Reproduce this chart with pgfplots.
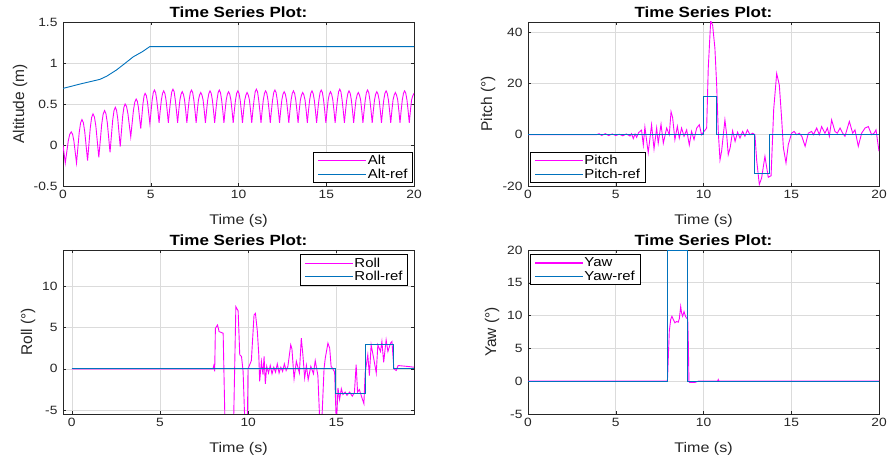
\documentclass[border=0pt]{standalone}
\usepackage{fontspec}
\setmainfont[FakeStretch=1.15]{Liberation Sans}
\newfontfamily\titlefont[FakeStretch=1.15]{Liberation Sans Bold}
\newfontfamily\ylabfont{Liberation Sans}
\usepackage{pgfplots}
\pgfplotsset{compat=1.18}
\definecolor{mblue}{rgb}{0,0.447,0.741}
\definecolor{mmag}{rgb}{1,0,1}
\definecolor{axgray}{rgb}{0.15,0.15,0.15}
\definecolor{gridgray}{rgb}{0.86,0.86,0.86}
\pgfplotsset{
  mstyle/.style={
    scale only axis, width=351pt, height=164pt,
    axis line style={axgray, line width=0.6pt},
    tick align=inside, major tick length=3pt,
    tick style={axgray, line width=0.5pt},
    grid=major, major grid style={gridgray, line width=0.6pt},
    tick label style={font=\fontsize{12}{12}\selectfont, text=axgray},
    xticklabel style={yshift=-1pt},
    yticklabel style={xshift=-2pt},
    /pgf/number format/assume math mode=true,
    title={Time Series Plot:},
    title style={font=\titlefont\fontsize{14.8}{14.8}\selectfont, at={(0.5,1)}, anchor=south, yshift=-5.5pt},
    xlabel={Time (s)},
    xlabel style={font=\fontsize{14}{14}\selectfont, text=axgray, at={(axis description cs:0.5,0)}, anchor=center, yshift=-35pt},
    legend cell align=left,
    legend style={draw=black, line width=0.7pt, fill=white, font=\fontsize{13}{13}\selectfont,
      inner xsep=4pt, inner ysep=1.5pt, nodes={inner xsep=1pt, inner ysep=1.4pt}, row sep=0pt},
    legend image code/.code={\draw[#1, line width=1.1pt] (0pt,0pt) -- (48pt,0pt);},
    xtick={0,5,10,15,20},
    every axis plot/.append style={line width=0.9pt},
  }
}
\begin{document}
\begin{tikzpicture}
\path[use as bounding box] (0,0) rectangle (890pt,462pt);
% ---------------- Altitude ----------------
\begin{axis}[mstyle, at={(63pt,276pt)}, anchor=south west,
  xmin=0, xmax=20, ymin=-0.5, ymax=1.5, ytick={-0.5,0,0.5,1,1.5},
  yticklabels={-0.5,0,0.5,1,1.5},
  ylabel={Altitude (m)},
  ylabel style={font=\ylabfont\fontsize{15.5}{15.5}\selectfont, text=axgray, at={([xshift=-43pt]axis description cs:0,0.5)}, anchor=center},
  legend style={at={(1,0)}, anchor=south east, xshift=-1pt, yshift=3pt}]
\addplot[mmag] coordinates {
(0,0.00) (0.13,-0.22) (0.30,0.05) (0.385,0.131) (0.47,0.16) (0.545,0.131) (0.62,0.05) (0.77,-0.22)
(0.925,0.155) (1.0025,0.27) (1.08,0.31) (1.16,0.272) (1.24,0.16) (1.40,-0.19)
(1.555,0.21) (1.6325,0.337) (1.71,0.38) (1.7925,0.34) (1.875,0.225) (2.04,-0.15)
(2.205,0.25) (2.2875,0.377) (2.37,0.42) (2.4475,0.381) (2.525,0.27) (2.68,-0.09)
(2.83,0.30) (2.905,0.418) (2.98,0.46) (3.05,0.424) (3.12,0.32) (3.26,-0.02)
(3.40,0.35) (3.47,0.46) (3.54,0.50) (3.62,0.47) (3.70,0.38) (3.86,0.10)
(4.015,0.425) (4.0925,0.525) (4.17,0.56) (4.235,0.533) (4.30,0.455) (4.43,0.20)
(4.555,0.50) (4.6175,0.597) (4.68,0.63) (4.7475,0.602) (4.815,0.52) (4.95,0.26)
(5.08,0.55) (5.145,0.639) (5.21,0.67) (5.276,0.64) (5.342,0.55) (5.408,0.42)
(5.474,0.27) (5.54,0.42) (5.606,0.55) (5.672,0.63) (5.738,0.66) (5.804,0.63) (5.87,0.55) (5.936,0.42)
(6.002,0.27) (6.068,0.42) (6.134,0.55) (6.2,0.65) (6.266,0.68) (6.332,0.65) (6.398,0.55) (6.464,0.42)
(6.53,0.27) (6.596,0.42) (6.662,0.55) (6.728,0.62) (6.794,0.65) (6.86,0.62) (6.926,0.55) (6.992,0.42)
(7.058,0.27) (7.124,0.42) (7.19,0.55) (7.256,0.64) (7.322,0.67) (7.388,0.64) (7.454,0.55) (7.52,0.42)
(7.586,0.27) (7.652,0.42) (7.718,0.55) (7.784,0.61) (7.85,0.64) (7.916,0.61) (7.982,0.55) (8.048,0.42)
(8.114,0.27) (8.18,0.42) (8.246,0.55) (8.312,0.63) (8.378,0.66) (8.444,0.63) (8.51,0.55) (8.576,0.42)
(8.642,0.27) (8.708,0.42) (8.774,0.55) (8.84,0.64) (8.906,0.67) (8.972,0.64) (9.038,0.55) (9.104,0.42)
(9.17,0.27) (9.236,0.42) (9.302,0.55) (9.368,0.62) (9.434,0.65) (9.5,0.62) (9.566,0.55) (9.632,0.42)
(9.698,0.27) (9.764,0.42) (9.83,0.55) (9.896,0.63) (9.962,0.66) (10.028,0.63) (10.094,0.55) (10.16,0.42)
(10.226,0.27) (10.292,0.42) (10.358,0.55) (10.424,0.61) (10.49,0.64) (10.556,0.61) (10.622,0.55) (10.688,0.42)
(10.754,0.27) (10.82,0.42) (10.886,0.55) (10.952,0.65) (11.018,0.68) (11.084,0.65) (11.15,0.55) (11.216,0.42)
(11.282,0.27) (11.348,0.42) (11.414,0.55) (11.48,0.63) (11.546,0.66) (11.612,0.63) (11.678,0.55) (11.744,0.42)
(11.81,0.27) (11.876,0.42) (11.942,0.55) (12.008,0.64) (12.074,0.67) (12.14,0.64) (12.206,0.55) (12.272,0.42)
(12.338,0.27) (12.404,0.42) (12.47,0.55) (12.536,0.62) (12.602,0.65) (12.668,0.62) (12.734,0.55) (12.8,0.42)
(12.866,0.27) (12.932,0.42) (12.998,0.55) (13.064,0.63) (13.13,0.66) (13.196,0.63) (13.262,0.55) (13.328,0.42)
(13.394,0.27) (13.46,0.42) (13.526,0.55) (13.592,0.61) (13.658,0.64) (13.724,0.61) (13.79,0.55) (13.856,0.42)
(13.922,0.27) (13.988,0.42) (14.054,0.55) (14.12,0.63) (14.186,0.66) (14.252,0.63) (14.318,0.55) (14.384,0.42)
(14.45,0.27) (14.516,0.42) (14.582,0.55) (14.648,0.64) (14.714,0.67) (14.78,0.64) (14.846,0.55) (14.912,0.42)
(14.978,0.27) (15.044,0.42) (15.11,0.55) (15.176,0.62) (15.242,0.65) (15.308,0.62) (15.374,0.55) (15.44,0.42)
(15.506,0.27) (15.572,0.42) (15.638,0.55) (15.704,0.65) (15.77,0.68) (15.836,0.65) (15.902,0.55) (15.968,0.42)
(16.034,0.27) (16.1,0.42) (16.166,0.55) (16.232,0.63) (16.298,0.66) (16.364,0.63) (16.43,0.55) (16.496,0.42)
(16.562,0.27) (16.628,0.42) (16.694,0.55) (16.76,0.61) (16.826,0.64) (16.892,0.61) (16.958,0.55) (17.024,0.42)
(17.09,0.27) (17.156,0.42) (17.222,0.55) (17.288,0.64) (17.354,0.67) (17.42,0.64) (17.486,0.55) (17.552,0.42)
(17.618,0.27) (17.684,0.42) (17.75,0.55) (17.816,0.62) (17.882,0.65) (17.948,0.62) (18.014,0.55) (18.08,0.42)
(18.146,0.27) (18.212,0.42) (18.278,0.55) (18.344,0.63) (18.41,0.66) (18.476,0.63) (18.542,0.55) (18.608,0.42)
(18.674,0.27) (18.74,0.42) (18.806,0.55) (18.872,0.61) (18.938,0.64) (19.004,0.61) (19.07,0.55) (19.136,0.42)
(19.202,0.27) (19.268,0.42) (19.334,0.55) (19.4,0.63) (19.466,0.66) (19.532,0.63) (19.598,0.55) (19.664,0.42)
(19.73,0.27) (19.796,0.42) (19.862,0.55) (19.928,0.60) (20.0,0.63)
};
\addlegendentry{Alt}
\addplot[mblue] coordinates {
(0,0.69) (1,0.745) (2.1,0.80) (2.5,0.84) (3.05,0.915) (3.5,0.99) (4.0,1.075) (4.5,1.135) (4.95,1.2) (20,1.2)
};
\addlegendentry{Alt-ref}
\end{axis}
% ---------------- Pitch ----------------
\begin{axis}[mstyle, at={(528pt,276pt)}, anchor=south west,
  xmin=0, xmax=20, ymin=-20, ymax=44, ytick={-20,0,20,40},
  ylabel={Pitch (°)},
  ylabel style={font=\ylabfont\fontsize{15.5}{15.5}\selectfont, text=axgray, at={([xshift=-40pt]axis description cs:0,0.5)}, anchor=center},
  legend style={at={(0,0)}, anchor=south west, xshift=2pt, yshift=3pt}]
\addplot[mmag] coordinates {
(0,0) (3.9,0) (4.05,0.4) (4.2,-0.3) (4.4,0.4) (4.6,-0.3) (4.8,0.3) (5.0,-0.3) (5.2,0.2)
(5.4,-0.4) (5.6,0.3) (5.81,-0.5) (5.9,0.4) (6.0,-1.5) (6.1,0.3) (6.19,-1.0) (6.3,0.8)
(6.47,1.8) (6.57,-4.0) (6.66,3.0) (6.85,-7.0) (7.04,3.9) (7.18,-5.5) (7.33,2.6) (7.42,-3.3)
(7.58,4.1) (7.71,-3.3) (7.9,2.6) (8.05,0.0) (8.15,9.0) (8.24,6.7) (8.37,-1.9) (8.51,3.3)
(8.62,-1.3) (8.75,2.6) (8.89,-0.6) (9.04,1.9) (9.19,-4.0) (9.32,1.3) (9.46,-1.9) (9.61,2.6)
(9.76,3.9) (9.89,0.0) (10.03,1.3) (10.18,2.6) (10.27,25.9) (10.41,44.5) (10.52,42.7)
(10.65,33.7) (10.75,19.4) (10.84,1.3) (10.94,-9.8) (11.03,-6.5) (11.13,0.0) (11.22,5.8)
(11.32,0.0) (11.41,-7.8) (11.52,-5.0) (11.66,1.5) (11.8,-2.6) (11.94,1.0) (12.08,-1.3)
(12.23,1.3) (12.36,-0.6) (12.5,1.9) (12.65,0.0) (12.8,0.6) (12.93,0.0) (13.03,-10.0)
(13.18,-19.4) (13.31,-16.9) (13.5,-8.4) (13.69,-16.6) (13.85,-16.0) (14.0,10.0) (14.17,23.9)
(14.32,19.4) (14.45,6.5) (14.55,-5.0) (14.7,-11.0) (14.83,-3.9) (15.02,0.6) (15.16,1.3)
(15.31,0.0) (15.46,0.6) (15.6,-0.6) (15.79,-4.5) (15.97,0.6) (16.16,1.3) (16.26,0.0)
(16.45,2.6) (16.6,0.0) (16.73,3.2) (16.92,0.6) (17.06,2.6) (17.17,-0.6) (17.3,5.8)
(17.49,1.3) (17.62,0.6) (17.78,2.6) (17.93,0.6) (18.06,-0.6) (18.31,5.2) (18.5,0.6)
(18.63,1.9) (18.82,-4.5) (19.01,0.6) (19.2,2.6) (19.39,3.2) (19.58,0.0) (19.72,0.6)
(19.83,1.9) (20.0,-6.5)
};
\addlegendentry{Pitch}
\addplot[mblue] coordinates {
(0,0) (9.97,0) (9.97,15) (10.75,15) (10.75,0) (12.93,0) (12.93,-15) (13.75,-15) (13.75,0) (20,0)
};
\addlegendentry{Pitch-ref}
\end{axis}
% ---------------- Roll ----------------
\begin{axis}[mstyle, at={(63pt,48pt)}, anchor=south west,
  xmin=-0.5, xmax=19.4, ymin=-5.45, ymax=14.35, ytick={-5,0,5,10}, xtick={0,5,10,15},
  ylabel={Roll (°)},
  ylabel style={font=\ylabfont\fontsize{15.5}{15.5}\selectfont, text=axgray, at={([xshift=-35pt]axis description cs:0,0.5)}, anchor=center},
  legend style={at={(1,1)}, anchor=north east, xshift=-6pt, yshift=-4.5pt}]
\addplot[mmag] coordinates {
(0,0) (8.0,0) (8.05,0.4) (8.1,-0.3) (8.14,4.9) (8.26,5.3) (8.35,4.5) (8.58,4.3)
(8.67,-5.2) (8.72,-9) (9.15,-9) (9.3,7.5) (9.43,7.0) (9.52,1.7) (9.62,1.5) (9.71,-0.3)
(9.77,-4) (9.84,-9) (9.94,-9) (9.99,0) (10.18,1.0) (10.33,6.5) (10.41,6.7) (10.52,4.5)
(10.6,1.7) (10.65,-1.5) (10.75,0.9) (10.84,-0.7) (10.9,1.5) (10.97,-1.8) (11.05,0.3)
(11.15,-0.5) (11.25,0.4) (11.35,-0.6) (11.45,0.2) (11.55,-0.4) (11.65,0.6) (11.75,-0.5)
(11.85,0.2) (11.95,-0.3) (12.05,0.6) (12.15,-0.2) (12.25,0.3) (12.41,2.9) (12.48,2.4)
(12.6,-1.2) (12.73,0.9) (12.9,-0.5) (13.01,3.7) (13.1,1.7) (13.2,-1.1) (13.3,0.4)
(13.4,-1.3) (13.55,0.3) (13.7,-0.6) (13.8,1.0) (13.95,-0.8) (14.05,-6) (14.18,-6)
(14.3,0) (14.37,1.3) (14.52,3.1) (14.62,2.5) (14.7,0.3) (14.8,0) (14.9,-0.4) (15.0,-7)
(15.09,-2.3) (15.18,-3.7) (15.28,-2.4) (15.37,-3.1) (15.5,-2.8) (15.6,-3.2) (15.75,-2.8)
(15.9,-3.3) (16.02,-2.9) (16.12,0.5) (16.2,-2.8) (16.3,-2.5) (16.45,-3.5) (16.56,-4.2)
(16.63,-0.5) (16.78,1.7) (16.87,-0.8) (16.97,2.9) (17.12,1.2) (17.26,-0.5) (17.35,2.9)
(17.5,2.1) (17.58,3.3) (17.68,0.8) (17.82,3.5) (17.92,2.1) (18.07,3.1) (18.15,3.3)
(18.26,0) (18.39,-0.2) (18.5,0.4) (19.0,0.3) (19.4,0.2)
};
\addlegendentry{Roll}
\addplot[mblue] coordinates {
(0,0) (14.96,0) (14.96,-3) (16.64,-3) (16.64,3) (18.26,3) (18.26,0) (19.4,0)
};
\addlegendentry{Roll-ref}
\end{axis}
% ---------------- Yaw ----------------
\begin{axis}[mstyle, at={(528pt,48pt)}, anchor=south west,
  xmin=0, xmax=20, ymin=-5, ymax=20, ytick={-5,0,5,10,15,20},
  ylabel={Yaw (°)},
  ylabel style={font=\ylabfont\fontsize{15.5}{15.5}\selectfont, text=axgray, at={([xshift=-36pt]axis description cs:0,0.5)}, anchor=center},
  legend style={at={(0,1)}, anchor=north west, xshift=2pt, yshift=-4.5pt}]
\addplot[mmag] coordinates {
(0,0) (7.94,0) (7.96,1.0) (8.0,4.0) (8.05,7.6) (8.13,9.4) (8.2,9.9) (8.28,9.4) (8.37,8.9)
(8.47,9.1) (8.56,9.0) (8.62,9.5) (8.7,11.4) (8.75,10.4) (8.81,9.9) (8.89,10.6) (8.97,9.9)
(9.04,9.6) (9.1,9.5) (9.13,6.6) (9.17,0) (9.2,-0.2) (9.5,-0.2) (9.7,0) (10.8,0) (10.84,0.25)
(10.88,0) (20,0)
};
\addlegendentry{Yaw}
\addplot[mblue] coordinates {
(0,0) (7.94,0) (7.94,20) (9.1,20) (9.1,0) (20,0)
};
\addlegendentry{Yaw-ref}
\end{axis}
\end{tikzpicture}
\end{document}
